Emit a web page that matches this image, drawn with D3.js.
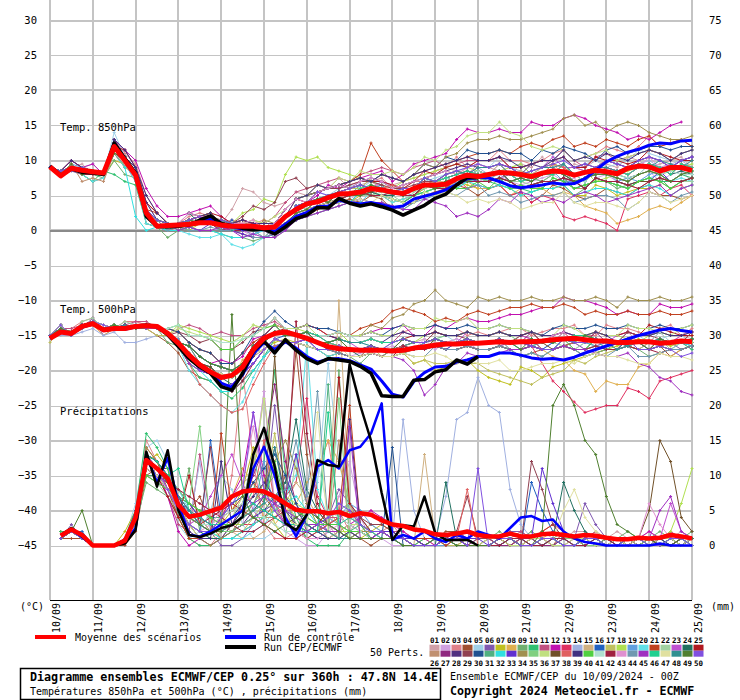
<!DOCTYPE html>
<html><head><meta charset="utf-8">
<script src="https://cdn.jsdelivr.net/npm/d3@7"></script>
<style>
body{margin:0;background:#fff}
svg{display:block}
text{font-family:"DejaVu Sans Mono","Liberation Mono",monospace;fill:#000}
</style>
</head><body>
<svg id="c" width="740" height="700"></svg>
<script>
// ---------------- DATA ----------------
const dayLabels = ["10/09","11/09","12/09","13/09","14/09","15/09","16/09","17/09","18/09","19/09","20/09","21/09","22/09","23/09","24/09","25/09"];
const leftTicks = [30,25,20,15,10,5,0,-5,-10,-15,-20,-25,-30,-35,-40,-45];
const rightTicks = [75,70,65,60,55,50,45,40,35,30,25,20,15,10,5,0];
const memberColors = ["#d0a0a8","#d0a0e0","#e08088","#a05030","#a0d0e8","#8058b0","#c0c020","#e0b050","#70b070","#30c070",
 "#c05080","#c010b0","#e03060","#a0b0e0","#d0b080","#2060c0","#c0c060","#b0e050","#60a0e0","#60e0e8",
 "#c04020","#a0d0a0","#c050d0","#207060","#b01820","#c09070","#902880","#503080","#904050","#205090",
 "#50b080","#30e0e0","#6030d0","#a09050","#80d080","#c0e080","#705028","#e06060","#403080","#50d040",
 "#b0e0d0","#a02040","#e090d0","#7098b0","#a030c0","#20d090","#e0e0a0","#309090","#508030","#8050e0"];
const memberNames = ["01","02","03","04","05","06","07","08","09","10","11","12","13","14","15","16","17","18","19","20","21","22","23","24","25",
 "26","27","28","29","30","31","32","33","34","35","36","37","38","39","40","41","42","43","44","45","46","47","48","49","50"];

// 850 hPa (°C), 6-hourly
const t850Mean = [9.1,7.8,8.9,8.6,8.4,8.2,12.0,10.0,7.9,2.5,0.6,0.7,0.8,0.9,1.1,1.1,0.8,0.6,0.6,0.6,0.4,0.5,2.0,3.0,3.8,4.1,4.7,5.2,5.3,5.5,6.0,5.8,5.5,5.3,6.0,6.5,6.5,6.6,7.4,7.9,7.7,8.0,8.3,8.2,8.0,7.7,8.2,8.5,8.4,7.9,8.3,8.6,8.4,8.1,8.9,9.2,9.1,8.5,9.0,9.0,8.6];
const t850Cep = [9.2,7.9,8.8,8.3,8.2,8.0,12.5,10.3,8.2,2.0,0.6,0.5,0.6,0.8,1.5,2.1,1.0,0.7,0.3,0.1,0.2,-0.5,0.5,1.7,2.2,3.3,3.2,4.6,3.9,3.5,3.8,3.4,2.9,2.2,2.9,3.6,4.6,5.2,6.5,7.6,7.5];
const t850Ctl = [9.2,7.9,8.8,8.4,8.3,8.1,12.2,10.0,8.0,2.4,0.7,0.6,0.7,0.9,1.3,1.6,0.9,0.5,0.2,0.3,0.4,-0.2,0.9,2.0,2.6,3.4,3.5,4.3,4.0,3.8,4.0,3.7,3.3,3.5,4.5,4.9,5.3,5.8,6.6,7.4,7.6,7.5,7.0,6.4,6.1,6.3,6.5,6.8,6.6,6.7,7.4,8.6,9.8,10.6,11.2,11.6,12.2,12.5,12.4,12.8,12.9];
// members: one letter per step, A = -3 °C, B = -2 ... ; lower case = +0.5
const t850Members = [
"MlMmLLpNl|GeEEeFfEGJiHg|HiIjJkJjKJjKkLlMlLm|MlLmMnMLmMNmMnNMmNnM",
"MLmLlLoNL|FeDdEeEDdDCdD|EfGgHhIHiIHhIiJjKkK|kLKjKkLKkJkLKkLlKLlK",
"MlNMLlQOm|IfEEFfFEeEEeD|FhIiJJjKKkJjKKlMnMN|NoNNmNOoNnOPoOPqPpQP",
"MLmLKkOMl|EdDDdEeDDcCCc|DeFGgHhHIhGgHIiJjJI|JjIiHIjJIhIJiIJjIIhI",
"MlMMmLRnM|HeEEfFFeEEDdE|GhIiIJjJKjIiJKkLlMm|MnMmLMnNMmNMmNoOnNOo",
"MLlLLlOmK|FdDDeEEeDDdDC|EfGhHiIIiJIiIJjKkLK|KkLKkKLlKkLLkKLmLlMM",
"MlMLlLNmL|GeDdDEeDDdDCd|EfGgHhHIiIHhIJjJKjJ|JjJIiJJjIIjJIiJJjIJj",
"MLmLlLOML|GeEEeEEDdDDdD|EfGhHHiIIJiIJjJKkKJ|JjIJjJIiIgGfEeFGgGHI",
"MLmLLkNLk|FdCDdDDcCCbCC|DeFfGgHhHHgGHiIJjKK|KkJJjKKjIJkKJjKKkJKk",
"MLmLKlLKj|EdDEeEEdDDdDD|EfGhHiIjJJiIIjKkKKk|KjJJiJkKJjKKjJKkKKLk",
"MlMMlLPnL|HfEEeFfEEeEEF|HiJjKkKLlMlLMmNMmNN|NnMMmNNoNMnONnOoONOo",
"MlNMmLQoN|JgFFfGgFEeEEE|GhHIjJKkLlKLmNnOQrR|RrRRsSSTtTSrRQqQRSs",
"MLmLLlONl|FeDdEeEDdDDdD|EfGgHhIiIJiIIjJKkJj|JjIiHIhFeFeEDhIiIJjI",
"MlNMlLPNl|FeEEeEEeEDdDD|FgHhIiJjJJjIJkKLlLM|LmMlLMmMLlMMlMmNMmNM",
"MLmLlLQNl|GeEEeFEeEDdDD|FgGhHiIiIJjIJjKKkLl|LmLlLMmLLlMMlLMmMLmM",
"MlMMlLPnL|GeEEeEEDeDdDD|FgHhIiIiJjIiJjKkKLl|LlKkKLlLKkLMlLMmMMNn",
"MLmLlLPnM|HfEEfFFeEEeEE|GhIiJjJJkKJjKkLlLMm|MmMLlMmMMlMNmMNnNMNn",
"MlMMlLPNl|GeEEeFfEEfGhH|LnNnMlLkKjJKkLlMmMl|LlMmLLmMLlKkLlMmLlMm",
"MLmMlLONl|FeEDdEeEEdDCd|DfGgHhHiIIiIIjJKkKL|KlKkKLlKKkLlKkKLlKLl",
"MLmLKkOmK|EdDDcCCcBaBCc|DeFgGhHHiIHhIiJjJKk|KkJJjKKkJjKKjJKkLKkK",
"MlMMlLPnL|GfEEeFfEEeEEE|GhHiJjKLpNlKLlMmNnO|OoOPpPQqPpPQpPQqPpQP",
"MLmLlLOmL|FeEEeEEeDdDDD|EfGhHHiIIiIHiJjJKkK|KkKKjKKkKJkKKjKKkKKK",
"MlMMlLPNL|GeEEeFEeEDcDd|EfGhIiJjJKjJJkKLlLM|MmMLlMnMMlMNmMNnNMNn",
"MLmLlLOmL|FeEEfEEeDdDDD|FgGhHiIIiIIiJjKkKLl|LlLKkLLlLKlLLkLmMLlL",
"MlNMlLPoM|HfEEeFfFEeEEE|GhIiJjKkKKjJKlLMmMN|NnMMmNNnMMnNNmNoOnNN",
"MLmKkKOmL|FeDdEeEDdDDdD|EfGhHiIIjJiIIjJJkKK|KkKJjKKkJJkKKjJKkKKk",
"MlMMlLPnL|GeEEeEEDdDDdD|FgHhIiJjJJiIJjKkLlL|LlLKkLLmLlLMlLMmMLmM",
"MlMMlLQnM|HeEEfFEeEDdDD|FhIiJjJKkKJjKkLlMmM|MmMLmMNnMmMNmMNnNMNn",
"MLmLlLONl|GeEEeEEeEFgGH|KkJjJJjKKjJJjKKkLlL|LlKkKLlLKkLLkKLlLKLl",
"MlMMlLPnL|GeEEeEEeEDdDE|GhIiJjKkKLkKLmMnNoO|OoOONoOPoONoPOoPPoPP",
"MLmLlLOmL|FeEEeEEeDdDDD|EfGgHhHiIIhHIiJjJKk|KkJJjKKkJjKKjJKkKJKk",
"MLmLlLOMF|DdDDdDDcCCcDD|EfGgHhHiIIhHIiJjJKj|JjJIiJJjIiJJiIJjJIJj",
"MlMMlLPnL|GeEEdDEeDcCCc|DeFgHhIiIIhHIjJjKkK|KkKJjKKkKJkKKjKKlKKk",
"MlMMlLPnL|GeEEeFfEEeDeE|GhIiJjKkKLkKLmMnOpQ|QqQQqRrTtSsRSsSRqQQq",
"MLmLlLOmL|FeEEeEEeEDdDD|FgGhIiIiJJiIJjKkKLk|KlLKkKLlKkLLkKLlLKLl",
"MlMMlLPnL|GeEEeEEeEEeEF|GhIjJkKlLLlLMnNoPqR|RsRqPoPoNnOoNnOoONOo",
"MLmLlLOmL|FeEEeEEeDdDDD|EfGhHiIIiJiIIjJKkKK|KkKJjKKkKJkKKjKKkKKk",
"MlMMlLPnL|GeEEeFEeEDdDD|FgHhIiJjJJjJJkKLlLL|LlLKkLmMLlLMlLMmMLmM",
"MlNMlLQoM|IfEEeFfEEeEEE|GhIjJjKkKLkKLlMmNnN|NnNMmNNoNnNOnNOoONOo",
"MLmLlLOmL|FeEDdEeDDdDDD|EfGgHhIiIIhHIiJjJJK|JkJjJJkKJjKKjJKkKJKk",
"MlMMlLPnL|GeEEeEEeEEdDD|FgGhIiIJjJiIJjKkKLl|LlLKkLLlLKlLLkLmLlLL",
"MLmLlLOnL|GeEEeEEdDDdDD|EfGgHhIiIIiIIjJJkKK|KkKJjKKkKJkKKjJKkKKk",
"MlMMlLPnL|GeEEfFFeEEeDE|GhHiJjJKkKJjKkLlLMm|MmLLlMMmLlMMlLMnMmMM",
"MLmLlLOmL|FeDdDDdDDdCCc|DeFfGgHhHHgGHhIiIJj|IiIHhIIiHhIIhGHiIHIi",
"MLmLlLOmL|FeEDdDDdDCcCC|DeFfGgHhHHgGGhHgFfF|GhHiIHhHIiIHhIiJjIJj",
"MlMMlLPnL|GeEEeEEeEDdDD|FgHhIiIJjJiIJkKkLlL|LlLKkLLmLlLLlLMmMLmM",
"MLmLlLOmL|FeEEeEEeDdDDD|EfGgHhHhHIhHHiIiIHh|HhHGgHHiHgHHgGHiIHhI",
"MlMMlLPnL|GeEEeEEeDdDDD|FgHhIiJjJJiJJkKLlLM|MmLLlMMmLlMMlMmMNmMN",
"MLmLlLOnL|GeEEeEEeEDdDD|EfGhHiIIjJiIJjJKkKL|LlKkKLlLKkLLkKLlLKLl",
"MlMMlLPnL|GeEEeFEeEDdDD|FgHiIiJjJJiJJkKLlMm|MmMLlMmNMmMNmMNnNMNn"];

// 500 hPa (°C)
const t500Mean = [-15.4,-14.5,-14.7,-13.7,-13.3,-14.2,-14.0,-14.0,-13.7,-13.6,-13.7,-14.7,-16.1,-17.8,-19.2,-20.2,-21.0,-20.7,-19.5,-17.0,-15.4,-14.7,-14.5,-14.9,-15.4,-16.0,-16.6,-16.9,-17.0,-17.1,-17.1,-17.1,-17.2,-17.1,-16.8,-16.6,-16.4,-16.2,-16.2,-16.1,-16.1,-16.0,-15.9,-16.0,-15.9,-15.9,-15.8,-15.6,-15.5,-15.4,-15.6,-15.8,-15.8,-16.0,-16.0,-15.9,-15.9,-16.1,-16.0,-15.8,-15.9];
const t500Cep = [-15.4,-14.5,-14.7,-13.7,-13.3,-14.2,-14.0,-14.0,-13.7,-13.5,-13.7,-14.9,-16.6,-18.3,-19.5,-20.4,-22.3,-22.8,-20.4,-17.2,-15.8,-17.5,-15.6,-17.1,-18.3,-19.0,-18.3,-18.5,-18.7,-19.4,-20.4,-23.6,-23.7,-23.7,-21.4,-21.3,-20.2,-19.9,-18.5,-19.1,-18.0];
const t500Ctl = [-15.4,-14.6,-14.6,-13.8,-13.4,-14.1,-14.0,-14.1,-13.8,-13.6,-13.8,-14.8,-16.4,-18.0,-19.3,-20.2,-21.8,-22.4,-20.6,-17.6,-16.0,-17.0,-15.9,-16.8,-18.0,-18.8,-18.4,-18.3,-18.6,-19.2,-19.8,-21.5,-23.4,-23.8,-21.6,-20.3,-19.5,-19.4,-18.8,-18.5,-18.0,-18.0,-17.5,-17.5,-17.8,-18.2,-18.4,-18.3,-18.5,-18.1,-17.5,-17.0,-16.5,-16.0,-15.5,-15.0,-14.6,-14.2,-14.0,-14.3,-14.5];
// members: A = -28 °C, B = -27 ... ; lower case = +0.5
const t500Members = [
"NoNOpOOoOOO|NlKJiHHiKMnN|NnMMlLLlLLlMmMMmMM|MmMNmMMmNMmMMnMMmMNm",
"NOnOPoOOPoO|NMlKJiIJlNoN|NmMLlKkLLlLLmLMmML|LlMMlLMmMLlMMmLLmMML",
"NOOPpOOPPoO|OnMLkJJkMNoO|OoONnNNnNNnOOoOONn|NnOONnOOoNNoOOnNOoNO",
"NONoPOoOOON|MkIHgFFgIKlM|MlLKkKKkKKkLLlLLlL|LlLKkLLlLKkLLlLLlKLl",
"NoNOPoOOoOO|NMlKJiIJlMnN|NnMMmMMlLMmMMmNMmM|MmMNnMMmNNmMMnNMmNNM",
"NONOpNOoOOO|NlJIhGGhJLmM|MmLLkKKlLLlLMmMMlL|LlMMlLLmMLlMMlLMmMLl",
"NoNOPOoOOOO|NlKJIhHIkLMm|MlLLkKKlLLkJjIiJjI|HgGiIHiJjKkLlMmMMlMm",
"NNNOoNOoOOO|NmKJiHHjLMnN|NnMMlLLlLLmMMmMMmM|MmLLlLKjIhFgGGiJkKLl",
"NONoPOOoOOO|MlJIhGGhJLmM|MlLKkKJkKKkLLlLLlL|LlLKkKLlLKkLLlLKkLLl",
"NOnOPOoOOoO|NlJHgFEfIKmM|MmLLkKKkKLlLLlLLlL|LlLLlLLlMMlLLmMLlMML",
"NOOoPOOoPPO|NOoONnNNOoPO|NnNNmMMmMMnNNnNNnN|NnNNmMNnNNnNNnNNnNNN",
"NoNOPoOOoOO|NMlKJjJKmNoO|OoONnNNnOOoNNoOPpP|PpQQqRRsSSrRQqQQrRRr",
"NONoPOOoOOO|NMlKJiIJlMnN|NmMMlLLlLLmMMmMMmM|MmMMlJgFdCcDDfFEgHhI",
"NNNnONnMMmN|NMlKJiIJlMnN|NmMMlLLlLLlMMmMMmM|MmMMmMMmLMmMMlMMmMMM",
"NOnOPOoOOOO|NmKJiHHiKMnN|NnMMlLLlLMmMMmMMmM|MmMMmLLmMMmMLmMMmMMM",
"NoNOPoOOoOO|NlKIhGGhJLmN|NmMLlLLlLLlLMmMMmM|MmMMlLMmMMmMMmMMmMMM",
"MONoPOOoOON|NMlKJiIJlMnN|NmMLlLLlKKkJjJJjJJ|IhHgGHhIjJKkLlLMmMMM",
"NoNOPoOOoOO|NoOnNmMNoOpO|OnNNnMMmMMmMNnNNnN|NnNNnMMnNNnNNmMNnNNN",
"NONoPOOoOOO|NmKJiHHiKMnN|NnMMlLLlLLlLMmMMmM|MmLLlMMmMMlLLmMMlLMm",
"NoNOPoOOoOO|NlIGeDCdHKlM|MlLKkKKkKKlLLlLLlL|LlLLlLLlLLlLLlMMlLLl",
"NONoPOOoOOO|OnMLkJJkMNoO|OoONnNOoPqRqQPpPQq|QqRRrRRrRQqQQqQQqQQq",
"NONPpOOPoOO|NMlKJiIJlMnN|NmMMlLLlLLlLLmMMmM|MmMMmMMlLMmMMmMMmLMm",
"NoNOPoOOoOO|NMlJIhHIkMnN|NnMMmMLlLLmMMmMMnN|NnNNmMMnNNmMNnNNnMNn",
"NONoPOOoOOO|NlKJiHGhJLmM|MmLLlLKkKLlLLlLLlL|LlLLlLLlLLmMMlLLlLLl",
"NOnOPOoOOoO|NMlKJiIJlMnO|NnNNmMMmMMmNNnNNnN|NnNNnNNnMMnNNnNoOnNN",
"NoNOPoOOoOO|NlKIhGGhKLmM|MmLLlKKkKLlLLlLLlL|LlLLlLLlLLlLLlLLlLLl",
"NONoPOOoOOO|NMlKJiIJlMnN|NnMMmLLlLLmMMmMMmM|MmMMnMMmMMnMMmMMnMMm",
"NOnOPOoOOoO|NMkJhGGhKMnN|NmMLlLLlLLlMMmMMmM|MmMMlLLmMMmLLmMMmMMl",
"NoNOPoOOoOO|NnNMmLLMnOpO|NnNMmMMmMMmMMnNNmM|MmMNnMMmNNmMMnNNmMMn",
"NONoPOOoOOO|OnMLkJJkNPqP|OoOOnNNnNOoOOoOOoO|OoOOnNOoOOoOOoOOoOOo",
"NOnOPOoOOoO|NMlJIhHIkMnN|NmMMlLLlLLlMMmMMmM|MmMLlMMmMMmLMmMMmMMm",
"NoNOPoOOoOO|NlJIgFFgIKlM|MlLLkKKlLLlLLlLMmM|MmMLlLLmMMmLLlMMmMMl",
"NONoPOOoOOO|NlKIhGGhJLmM|MmLLlLLlLLlLLlLMmM|MmMMmLLlMMmMMmMLlMMm",
"NOnOPOoOOoO|NMlKJiIJlNoN|NnNNnNNoOpQrStSrRs|SsSSsSSsSSsSRsSSsSSs",
"NoNOPoOOoOO|NMlKJiIJlMnN|NnMMmMMmMMmMMmNNnN|NnNMmMMmNNmMMmNNnMMm",
"NONoPOOoOOO|NOnNmMMNoOoO|OoNNnNNnNNoOOpPPpO|OoOOnNNoONnNNoOOnNOo",
"NOnOPOoOOoO|NMkJiHHiKMnN|NmMLlLLlLLlLLmMMmM|MmMMmMLlMMmMMmMMmMMm",
"NoNOPoOOoOO|NlJGeDCcGJlM|MmLLkKKlLLlLLlMMmM|MmMMmLLlMMmMMmLLmMMm",
"NONoPOOoOOO|NMlKJiIJlNoN|NnNNmMMmMNnNNnNNnN|NnNNnNNnNNnNMmNNnNNn",
"NOnOPOoOOoO|OoNNmLLmNOoN|NnMMmMMmMMmMMmMMmM|MmMMmMMmLLmMMmMMmMMm",
"NoNOPoOOoOO|OoNNmMMmNOpO|NnNNnNMmMMmMMmMMmM|MmMMmMMmMMmMMmMMnMMm",
"NONoPOOoOOO|NlKIhGFgJLmM|MlLLkKKkKKlLLlLLlL|LlLLlLLlLLlLLlLLkLLl",
"NOnOPOoOOoO|NMlKJiIJlMnN|NnMMmMMmMMmMMmMMmM|MmMMmMNnMMmMMmMMmMMm",
"NoNOPoOOoOO|NMkJIhHIkLmM|MlLLkKKkKKkKKlLLlL|LlLKkKLlLKkKLlKKkLLl",
"NONoPOOoOOO|NlJIhGGhJLmM|MmLLlLLkKKjIeGiJkK|KkLLlLLlLLkKKkJiHgFe",
"NOnOPOoOOoO|NMlKJiIJlMnN|NnNMmMMmMMmMMmMMmM|MmMMmMMmNNmMMmMMmMMm",
"NoNOPoOOoOO|NMkJIhHIkLmM|MlLLlKKkKKkKKkKJjJ|JjIIiJJjJKkKKjJJkKKj",
"NONoPOOoOOO|NMlKJiIJlMnN|NnMMmMMlLLmMMmMMmM|MmMMmMMmMMmMLlMMmMMm",
"NOnOPOoOOoO|NMlKJiIJlMnN|NnMMmLLlLLmMMmMMmM|MmMLmMMmMNmMMmMLmMMm",
"NoNOPoOOoOO|NlKIhGGhJLmM|MmLLlLLlLMmMMmMMmM|MmMMlLLmMMmMMmLLlLKk"];

// precipitation (mm / 6h), first step has no value
const precipMean = [null,1.4,2.3,1.5,0,0,0,0.7,4.0,12.2,11.0,9.6,5.8,4.1,4.4,4.9,5.4,7.0,7.7,7.9,7.7,7.0,6.0,5.1,4.9,4.9,4.6,4.8,4.2,4.6,4.4,3.6,3.0,2.8,2.3,2.1,1.6,1.5,1.7,2.0,1.5,1.3,1.3,1.7,1.3,1.3,1.6,1.7,1.5,1.3,1.5,1.4,1.1,0.9,0.9,1.1,1.0,1.1,1.5,1.3,1.0];
const precipCep = [null,1.5,2.5,1.3,0,0,0,0.3,2.2,13.4,8.4,13.6,5.0,1.5,1.2,1.7,2.5,2.9,4.1,13.0,16.8,11.3,3.2,2.2,4.4,12.2,11.5,11.3,25.9,20.0,15.0,7.5,0.8,2.9,2.7,7.0,1.8,0.8,0.8,0.8,0];
const precipCtl = [null,1.5,2.3,1.2,0,0,0,0.5,2.5,13.0,9.0,12.5,6.0,1.5,1.3,2.0,3.0,4.0,5.0,11.0,14.1,10.0,4.0,1.3,4.4,11.3,12.2,11.0,13.6,14.1,16.0,20.3,0.8,1.5,1.0,2.0,1.0,0.5,1.5,1.0,2.0,1.5,1.0,2.5,4.0,4.2,3.5,3.7,2.0,1.0,0.5,0.3,0,0,0,0,0,0.3,0,0,0];
// members: A = 0 mm, B = 1 mm ... '.' = no value
const precipMembers = [
".BCBAAABE|MLJFDEFG|HJKWFDCEGDBCEF|DCBBAABBCB|BBCBBCBBCCBBCBBCBBCB",
".BCBAAAAD|NMKHCBAB|CDLWGCBAACHMEB|BAAABBAABA|AABBCBAAABBAAABBAABA",
".CCBAAABF|PMKEBAAC|KZMDBBCGLPFCBB|CDBAAABBAA|ABBAAABBBAABBAAABCBB",
".BBBAAAAC|KLLGFHDB|BCDEGKcNFDCBBA|BBAAABCCBB|BAABBAACBBAABBAABBAB",
".BCCAAABG|OPMDBCFK|IDBBCDFHJaMFCB|BBAAAABBAA|ABBBAABBAAABBBAAABBA",
".BDBAAABE|LKIFGECA|ABDGUHCBCEIGDB|CBBAABBCBB|BBCCBAABBGDBBABBAABB",
".CCBAAACF|MNLHEDCD|FIOKDBBCDFDBBC|DCBBAAAABA|AAABBAABBAAABBAAABBA",
".BCBAAABE|NLIEBBCE|HLJEDFGJLPMGCB|CBAABAABBA|ABBAABCBBAABBAABBBAB",
".BCBAAABD|JIHELCBB|CEGIKHDBBCZEDC|CBBAAABBAA|BCBBCBBCBBCBBCBBCBBC",
".CCBAAABF|QOLEBAAB|DFIMZKEBAAACDB|BBAABBAAAB|BAABBAABBAABBAABAABB",
".BCBAAABE|MKHDCNEF|GHIGFEDDDEEDDC|CCCBBBBCCB|BBBCBBABBBCBBABBBCBB",
".BCBAAABE|NLHCABCE|HKTKGDCBBBCDEF|EDCBBAABBB|BBAABBBAABBBAABCBBAB",
".BCBAAABE|LKJHFEDC|CDDEFHJVHEDCBB|BBAAAABBBB|BAABBCDCBAABBAABBBAB",
".BCBAAABE|MLIEDMCD|EFGHGFEDCBBCBB|BBSFBBHSTY|UTIDBAABBAABBAABBAAB",
".BCBAAABE|LKIGFEDC|CBBCEGJHEDjGCB|BBAANBBAAB|BAABBABBAAABBABBBBAB",
".BCCAAABF|NMJGDCPE|GHGFEDCCDEFGEC|CBBBAABBBA|ABBAJFCBBAABBAABBAAB",
".BCBAAABE|MLKIGECB|BCEGQGEDCBBBCD|CCBBAAAABB|BBAABBBAABBAABBBBAAB",
".BCBAAABE|LKJHGFED|DDEFGHGFEDCCCB|BBAAABBAAA|BBAABBBAABBAAABBBCGL",
".BCBAAABE|KJIGFDCC|DEFMFEDCCDEGFD|CBBAAAABBA|ABBAABBAAABBAABBBAAB",
".BCBAAABE|MLKIFDCB|BBCDFHKdIEDCBB|BBAAAABBAA|AABBAABBAAABBBAABBAA",
".BCBAAABE|OMIEBBCQ|FHJHFDCBCDEUDC|CBBBBBABBB|BBAABCDBBAABBAABBBAB",
".BCBAAABE|KJHFDCCD|EFEDCBNCDEFGEC|BBAAAABBBA|AABBAABBBAABBAABBAAB",
".BCBAAABE|NLIFDEHK|NJFDCBBCDEFEDC|BBAAABBAAA|BBAABBAABBAABBAABGCB",
".BCBAAABE|LKIFDCBB|CDEFHJSIFDCBBB|CCBBAAJBBA|ABBAABBJFCBBAABBAABB",
".BCBAAABE|MKHEKDEF|GFEDCBBCDFYGEC|CBBAAABBAA|ABBAABBAABBAABBAABBA",
".BCBAAABE|KJIHGFED|CCDEEFFEDCPCBB|BBAAABBBAA|BBAABBAABBAABBAABBAB",
".BCBAAABE|NMKGDBAB|DGKOXMGCBBCDCB|BBAAABBAAB|BAABBAABBAABBBAABBAA",
".BCBAAABE|LKJIGEDC|CDFHOHFDCBBSDC|CBBAAABBBA|ABBAABBAABBAAABBAABB",
".BCBAAABE|MLJGEDOC|DEFGFEDCCDEFED|DCBBAABCHB|BBAAMIDBBAABBAABBAAB",
".BCBAAABE|NMKHEDCC|EGJLNKGDCBBBCB|BOAAABBBAA|ABBAABBAABBAAABBBAAB",
".BCBAAABE|KKJIGFEE|FGNGFEDCCXBBCC|BBBAAABBAA|ABBAABBAABBAABBAABBA",
".BCBAAABE|MLJHFDCB|BCDEFGHFDCBBBB|BBAAAABBAA|AABBAABBAABBAABBAABB",
".BCBAAABE|LKIHGEDC|CDEFGHNGECBBBB|CCBBAABBBB|AABBBLGCBBAABBAABBAB",
".BCBAAABE|OMJFDBAB|CEGJMPLGDBBBCC|CBBAAABBAA|ABBAABBAABBAABBAABBB",
".BCBAAABE|MLKIGRDC|CDEEFGFEDCVBBB|BBBAABBBAA|AABBAABBBAABBAABBBAA",
".BCBAAABE|NLJGDBBC|EHLVKFCBBBCDDC|BBBAAABBAA|BBAABBAABBAABBAABBAB",
".BCBAAABE|LKJHFDCC|DEFGbEDDCCBBBB|BBAAAABBAA|ABBAABBAABBAABBFPMEC",
".BCBAAABE|MKIFEDDE|FGHPGEDCCDEFDC|CBBAAABBIA|ABBAABBAABBAABBAABBA",
".BCBAAABE|NMKGCBBM|DFHJHFDCBBBCBB|BBAAAABBAA|AABBAABBAABBAABBAABB",
".BCBAAABE|KJIHGFED|DEFGMGFEDDDCCB|BBBAAABBAA|ABBAABBAABBAABBAABBA",
".BCBAAABE|MLJGEDDE|FGFEDCCDMFEDCB|BBAAAABBAA|ABBAABBAABBAABBAABBA",
".BCBAAABE|LKJIHGFE|DCCDEFgQGDCBBB|BBAAABBBAA|AABBAABBAABBAABBAABB",
".BCBAAABE|NLIFDCDF|HJRIFDCBBCDEDC|BBAAABBAAA|ABBAABBAABBAABBGDBBA",
".BCBAAABE|MKIGEDCC|DEFGHIPHWDCBBB|BBBAAABBAA|ABBAABBAABBAABBAABBA",
".BCBAAABE|LKJHFEDD|EFGHGFEDDCCRBB|CBBAAABBAA|ABBAABBAABBAABBBFHCB",
".BCBAAABE|NMKLFEDD|EFGFEDDCCTDEDC|BBAAABBAAA|ABBAABBAABBAABBAABBA",
".BCBAAABE|LKIGEDCC|DEFGFEDDTCBBBB|BBAAABBAAA|ABBAABBFIECBBABAABBA",
".BCBAAABE|MLJHFDCC|DEFGOGFDCCBBBB|BBAAABBAAA|ABBAABBAABBAABBAABBA",
".BCFAAABE|MLJGEDCC|hHEDCDEFEDCBBB|BBAAABBAAA|ABBAACUXUPNHDCBBAABB",
".BCBAAABE|NLIFDCCE|GITIFDCCDEGFDC|CBBAAABBAL|ABBAABBAABBAABBAABBA"];

// ---------------- CHART ----------------
const LETTERS = "ABCDEFGHIJKLMNOPQRSTUVWXYZabcdefghij";
const decodeT = (s, base) => s.replace(/\|/g, "").split("").slice(0, 61)
  .map(c => c === c.toUpperCase() ? base + LETTERS.indexOf(c) : base + LETTERS.indexOf(c.toUpperCase()) + 0.5);
const decodeP = s => s.replace(/\|/g, "").split("").slice(0, 61)
  .map(c => c === "." ? null : LETTERS.indexOf(c));

const svg = d3.select("#c");
const x = d3.scaleLinear().domain([0, 360]).range([50, 692]);
const y = d3.scaleLinear().domain([-45, 30]).range([545.5, 20.5]);
const yP = d3.scaleLinear().domain([0, 75]).range([545.5, 20.5]);
const stepHours = d3.range(0, 361, 6);

// grid
const grid = svg.append("g").attr("shape-rendering", "crispEdges");
grid.selectAll("line.v").data(dayLabels).join("line")
  .attr("x1", (d, i) => Math.round(x(i * 24))).attr("x2", (d, i) => Math.round(x(i * 24)))
  .attr("y1", 0).attr("y2", 600).attr("stroke", "#c4c4c4").attr("stroke-width", 2);
grid.selectAll("line.h").data(leftTicks).join("line")
  .attr("x1", 50).attr("x2", 692)
  .attr("y1", d => Math.round(y(d))).attr("y2", d => Math.round(y(d)))
  .attr("stroke", d => d === 0 ? "#8a8a8a" : "#c4c4c4")
  .attr("stroke-width", d => (d % 10 === 0) ? 2 : 1);
grid.append("line").attr("x1", 50).attr("x2", 692).attr("y1", Math.round(y(0)) - 2).attr("y2", Math.round(y(0)) - 2)
  .attr("stroke", "#c4c4c4").attr("stroke-width", 1);
grid.append("line").attr("x1", 50).attr("x2", 692).attr("y1", 600).attr("y2", 600).attr("stroke", "#000").attr("stroke-width", 1);

// axes labels
const axL = svg.append("g").attr("transform", "translate(50,0)")
  .call(d3.axisLeft(y).tickValues(leftTicks).tickSize(0).tickPadding(13).tickFormat(d3.format("d")));
const axR = svg.append("g").attr("transform", "translate(692,0)")
  .call(d3.axisRight(yP).tickValues(rightTicks).tickSize(0).tickPadding(17).tickFormat(d3.format("d")));
[axL, axR].forEach(a => {
  a.select(".domain").remove();
  a.attr("font-family", null).attr("font-size", null);
  a.selectAll("text").style("font-size", "10.5px").attr("fill", "#000");
});
svg.append("g").selectAll("text").data(dayLabels).join("text")
  .attr("transform", (d, i) => `translate(${x(i * 24) + 9.5},603) rotate(-90)`)
  .attr("text-anchor", "end").style("font-size", "10px").text(d => d);
svg.append("text").attr("x", 20).attr("y", 610).style("font-size", "10px").text("(°C)");
svg.append("text").attr("x", 711).attr("y", 610).style("font-size", "10px").text("(mm)");

// panel titles
svg.append("text").attr("x", 60).attr("y", 131).style("font-size", "10.5px").text("Temp. 850hPa");
svg.append("text").attr("x", 60).attr("y", 313).style("font-size", "10.5px").text("Temp. 500hPa");
svg.append("text").attr("x", 60).attr("y", 415).style("font-size", "10.5px").text("Précipitations");

// line generators
const lineT = d3.line().defined(d => d != null).x((d, i) => x(stepHours[i])).y(d => y(d));
const lineP = d3.line().defined(d => d != null).x((d, i) => x(stepHours[i])).y(d => yP(d));
function crosses(vals, sc) {
  return vals.map((v, i) => v == null ? "" :
    `M${(x(stepHours[i]) - 1.5).toFixed(1)},${sc(v).toFixed(1)}h3M${x(stepHours[i]).toFixed(1)},${(sc(v) - 1.5).toFixed(1)}v3`).join("");
}
const mem = svg.append("g").attr("fill", "none");
function drawMembers(vlist, gen, sc) {
  vlist.forEach((vals, k) => {
    mem.append("path").attr("d", gen(vals)).attr("stroke", memberColors[k]).attr("stroke-width", 1);
    mem.append("path").attr("d", crosses(vals, sc)).attr("stroke", memberColors[k]).attr("stroke-width", 1);
  });
}
drawMembers(precipMembers.map(decodeP), lineP, yP);
drawMembers(t500Members.map(s => decodeT(s, -28)), lineT, y);
drawMembers(t850Members.map(s => decodeT(s, -3)), lineT, y);

const spec = svg.append("g").attr("fill", "none").attr("stroke-linejoin", "round");
// precipitation specials
spec.append("path").attr("d", lineP(precipCtl)).attr("stroke", "#0000ff").attr("stroke-width", 2.5);
spec.append("path").attr("d", lineP(precipCep)).attr("stroke", "#000").attr("stroke-width", 2.5);
spec.append("path").attr("d", lineP(precipMean)).attr("stroke", "#ff0000").attr("stroke-width", 4.5);
// 500
spec.append("path").attr("d", lineT(t500Ctl)).attr("stroke", "#0000ff").attr("stroke-width", 3);
spec.append("path").attr("d", lineT(t500Cep)).attr("stroke", "#000").attr("stroke-width", 3.5);
spec.append("path").attr("d", lineT(t500Mean)).attr("stroke", "#ff0000").attr("stroke-width", 5);
// 850
spec.append("path").attr("d", lineT(t850Ctl)).attr("stroke", "#0000ff").attr("stroke-width", 3);
spec.append("path").attr("d", lineT(t850Cep)).attr("stroke", "#000").attr("stroke-width", 3.5);
spec.append("path").attr("d", lineT(t850Mean)).attr("stroke", "#ff0000").attr("stroke-width", 5);

// legend
const lg = svg.append("g");
lg.append("line").attr("x1", 35).attr("x2", 66).attr("y1", 637).attr("y2", 637).attr("stroke", "#ff0000").attr("stroke-width", 4);
lg.append("text").attr("x", 75).attr("y", 641).style("font-size", "10px").text("Moyenne des scénarios");
lg.append("line").attr("x1", 225).attr("x2", 256).attr("y1", 637).attr("y2", 637).attr("stroke", "#0000ff").attr("stroke-width", 4);
lg.append("text").attr("x", 264).attr("y", 641).style("font-size", "10px").text("Run de contrôle");
lg.append("line").attr("x1", 225).attr("x2", 256).attr("y1", 647).attr("y2", 647).attr("stroke", "#000").attr("stroke-width", 4);
lg.append("text").attr("x", 264).attr("y", 651).style("font-size", "10px").text("Run CEP/ECMWF");
lg.append("text").attr("x", 370).attr("y", 656).style("font-size", "10px").text("50 Perts.");
memberNames.forEach((n, k) => {
  const col = k % 25, row = Math.floor(k / 25);
  const bx = 429.5 + col * 11;
  lg.append("rect").attr("x", bx).attr("y", row === 0 ? 644.7 : 650.7).attr("width", 10).attr("height", 6).attr("fill", memberColors[k]);
  lg.append("text").attr("x", bx + 5).attr("y", row === 0 ? 643 : 666).attr("text-anchor", "middle")
    .style("font-size", "7.5px").style("font-weight", "bold").text(n);
});

// title box
svg.append("rect").attr("x", 20.5).attr("y", 668.5).attr("width", 420).attr("height", 31).attr("fill", "none").attr("stroke", "#000").attr("stroke-width", 1.5);
svg.append("text").attr("x", 30).attr("y", 681).style("font-size", "11.7px").style("font-weight", "bold")
  .text("Diagramme ensembles ECMWF/CEP 0.25° sur 360h : 47.8N 14.4E");
svg.append("text").attr("x", 30).attr("y", 695).style("font-size", "10px")
  .text("Températures 850hPa et 500hPa (°C) , précipitations (mm)");
svg.append("text").attr("x", 450).attr("y", 680).style("font-size", "10px").text("Ensemble ECMWF/CEP du 10/09/2024 - 00Z");
svg.append("text").attr("x", 450).attr("y", 695).style("font-size", "11.6px").style("font-weight", "bold")
  .text("Copyright 2024 Meteociel.fr - ECMWF");
</script>
</body></html>
